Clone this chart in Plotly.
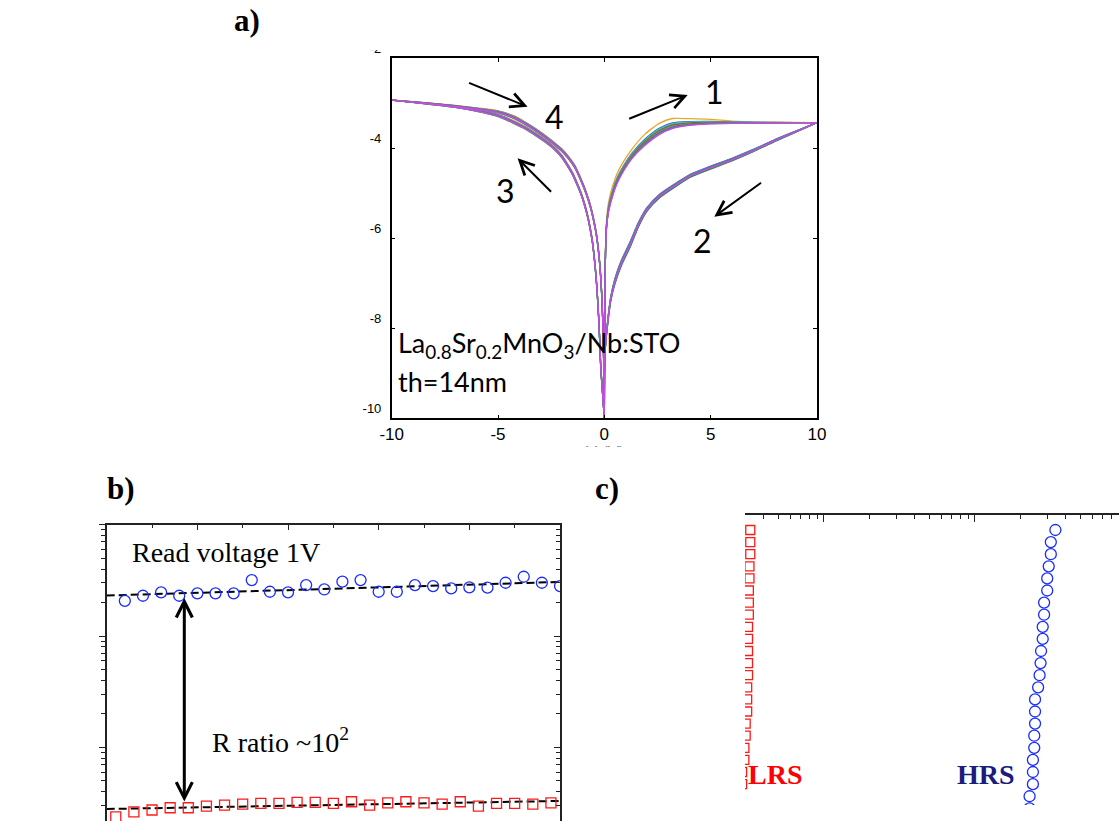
import numpy as np
import plotly.graph_objects as go

# ---------------------------------------------------------------------------
# Panel a: log10|I| vs V for repeated switching cycles
# ---------------------------------------------------------------------------
# branch 1: 0 -> +10 V (set, upper curve on positive side)
V_set = [0, 0.01, 0.03, 0.06, 0.1, 0.2, 0.4, 0.6, 0.9, 1.3, 1.9, 2.6, 3.2, 4.0, 5.0, 6.0, 8.0, 10.0]
logI_set = [-10, -8.4, -7.0, -6.2, -5.75, -5.35, -4.98, -4.72, -4.45, -4.17, -3.87, -3.62, -3.5,
            -3.45, -3.43, -3.43, -3.43, -3.43]
fan_set = [0, 0.1, 0.3, 0.5, 0.7, 0.85, 0.9, 0.9, 0.85, 0.85, 1.0, 1.0, 0.9, 0.6, 0.4, 0.2, 0.05, 0]

# branch 2: +10 -> 0 V (reset, lower curve on positive side)
V_reset = [10, 9, 8, 7, 6, 5, 4, 3.4, 2.6, 2.0, 1.6, 1.2, 0.8, 0.5, 0.3, 0.15, 0.05, 0.01, 0]
logI_reset = [-3.43, -3.63, -3.83, -4.05, -4.25, -4.43, -4.62, -4.8, -5.06, -5.36, -5.7, -6.15,
              -6.55, -6.95, -7.35, -7.9, -8.4, -9.0, -10]
fan_reset = [0, 0.3, 0.5, 0.6, 0.7, 0.8, 0.8, 0.9, 1.0, 1.0, 1.2, 1.5, 1.5, 1.5, 1.2, 1.0, 0.6, 0.3, 0]

# branch 3: 0 -> -10 V (outer curve on negative side)
V_neg_out = [0, -0.06, -0.12, -0.17, -0.22, -0.27, -0.33, -0.39, -0.47, -0.55, -0.66, -0.78, -0.93,
             -1.1, -1.3, -1.5, -1.75, -2.0, -2.4, -2.8, -3.2, -3.7, -4.3, -5, -6, -7, -8.5, -10]
logI_neg_out = [-10, -9.6, -9.2, -8.85, -8.25, -7.74, -7.25, -6.85, -6.45, -6.11, -5.8, -5.52, -5.25,
                -5.0, -4.77, -4.56, -4.36, -4.18, -3.98, -3.83, -3.7, -3.55, -3.41, -3.27, -3.16,
                -3.08, -3.0, -2.93]
fan_neg_out = [0, 0.5, 1, 1, 1, 1, 1, 1, 1, 1, 1, 1, 1, 1, 1, 1, 1, 1, 1, 1, 1, 1, 1, 0.8, 0.6,
               0.4, 0.2, 0]

# branch 4: -10 -> 0 V (inner curve on negative side)
V_neg_in = [-10, -8.5, -7, -6, -5, -4.3, -3.7, -3.2, -2.7, -2.3, -2.0, -1.7, -1.4, -1.1, -0.85,
            -0.65, -0.5, -0.36, -0.26, -0.18, -0.11, -0.06, -0.03, 0]
logI_neg_in = [-2.93, -2.99, -3.06, -3.12, -3.19, -3.3, -3.45, -3.6, -3.77, -3.92, -4.04, -4.2,
               -4.4, -4.7, -5.0, -5.3, -5.6, -5.96, -6.35, -6.8, -7.37, -8.1, -8.8, -10]
fan_neg_in = [0, 0.2, 0.4, 0.6, 0.8, 1, 1, 1, 1, 1, 1, 1, 1, 1, 1, 1, 1, 1, 1, 1, 1, 0.6, 0.3, 0]

# per-cycle colours and offsets (log10 units) of each branch
cycle_colors = ["#EDA526", "#1F6FD0", "#3FBFE8", "#4DAF3C", "#B03A2E", "#8C8C8C",
                "#2E8B57", "#7A5FC0", "#C24FDE"]
shift_set = [0.18, 0.07, 0.05, 0.03, 0.01, -0.01, -0.03, -0.05, -0.07]
shift_reset = [0.02, 0.04, -0.03, 0.03, -0.02, 0.01, -0.04, 0.02, -0.01]
shift_neg = [0.03, -0.02, 0.02, -0.03, 0.01, 0.02, -0.01, 0.0, -0.02]

V_ticks = [-10, -5, 0, 5, 10]
logI_ticks = [-10, -8, -6, -4, -2]

# ---------------------------------------------------------------------------
# Panels b and c: endurance at 1 V read and cumulative distribution
# ---------------------------------------------------------------------------
cycle_HRS = [c + 1.0 for c in range(25)]   # read after the reset sweep
cycle_LRS = [c + 0.5 for c in range(25)]   # read after the set sweep
R_HRS = [20700, 23000, 24700, 23000, 24200, 24200, 24200, 31800, 25000, 24700, 28700, 26200, 30800,
         31800, 25000, 25000, 28700, 28100, 26800, 27400, 27200, 30100, 34100, 30100, 28100]
R_LRS = [238, 264, 274, 287, 287, 297, 303, 310, 314, 314, 321, 321, 314, 325, 303, 318, 325, 318,
         310, 325, 297, 314, 314, 310, 318]

W, H = 1119, 821


def fx(px):
    return px / W


def fy(py):
    return 1 - py / H


fig = go.Figure()

# ---- panel a curves
for k, col in enumerate(cycle_colors):
    xs = V_set + V_reset + V_neg_out + V_neg_in
    ys = np.concatenate([
        np.array(logI_set) + shift_set[k] * np.array(fan_set),
        np.array(logI_reset) + shift_reset[k] * np.array(fan_reset),
        np.array(logI_neg_out) + shift_neg[k] * np.array(fan_neg_out),
        np.array(logI_neg_in) + shift_neg[k] * np.array(fan_neg_in),
    ])
    fig.add_trace(go.Scatter(x=xs, y=ys, mode="lines",
                             line=dict(color=col, width=1.3, shape="spline", smoothing=0.6),
                             xaxis="x", yaxis="y", hoverinfo="skip", showlegend=False))

# ---- panel b: linear fits of log10(R) vs cycle
x_fit = np.array([0, 25])
for cyc, R in ((cycle_HRS, R_HRS), (cycle_LRS, R_LRS)):
    p = np.polyfit(cyc, np.log10(R), 1)
    fig.add_trace(go.Scatter(x=x_fit, y=10 ** np.polyval(p, x_fit), mode="lines",
                             line=dict(color="black", width=2, dash="8px,4px"),
                             xaxis="x2", yaxis="y2", hoverinfo="skip", showlegend=False))

fig.add_trace(go.Scatter(x=cycle_HRS, y=R_HRS, mode="markers",
                         marker=dict(symbol="circle-open", size=11, color="#1a2cff",
                                     line=dict(width=1.3)),
                         xaxis="x2", yaxis="y2", showlegend=False))
fig.add_trace(go.Scatter(x=cycle_LRS, y=R_LRS, mode="markers",
                         marker=dict(symbol="square-open", size=10, color="#ff1a1a",
                                     line=dict(width=1.3)),
                         xaxis="x2", yaxis="y2", showlegend=False))
# right-hand tick axis of panel b
fig.add_trace(go.Scatter(x=[], y=[], xaxis="x2", yaxis="y4", showlegend=False))

# ---- panel c: cumulative probability of the same read-outs
n = len(R_HRS)
prob = [(i + 0.5) / n * 100 for i in range(n)]
fig.add_trace(go.Scatter(x=sorted(R_LRS), y=prob, mode="markers",
                         marker=dict(symbol="square-open", size=9, color="#ff1a1a",
                                     line=dict(width=1.3)),
                         xaxis="x3", yaxis="y3", showlegend=False))
fig.add_trace(go.Scatter(x=sorted(R_HRS), y=prob, mode="markers",
                         marker=dict(symbol="circle-open", size=11, color="#1a2cff",
                                     line=dict(width=1.3)),
                         xaxis="x3", yaxis="y3", showlegend=False))

sans = "Liberation Sans, Arial"
serif = "Liberation Serif, Times New Roman"
calib = "Lato, Carlito, Calibri"

fig.update_layout(
    template="none",
    width=W, height=H, autosize=False,
    margin=dict(l=0, r=0, t=0, b=0, autoexpand=False),
    paper_bgcolor="white", plot_bgcolor="white",
    showlegend=False,
    xaxis=dict(domain=[fx(391.7), fx(817)], range=[-10, 10], anchor="y", automargin=False,
               showline=True, linecolor="black", linewidth=1.5, mirror="ticks",
               ticks="inside", ticklen=4, tickwidth=1, tickcolor="black",
               tickvals=V_ticks, ticktext=[str(v) for v in V_ticks],
               showgrid=False, zeroline=False,
               tickfont=dict(family=sans, size=17, color="black")),
    yaxis=dict(domain=[fy(418.3), fy(58.3)], range=[-10, -2], anchor="x", automargin=False,
               showline=True, linecolor="black", linewidth=1.5, mirror="ticks",
               ticks="inside", ticklen=4, tickwidth=1, tickcolor="black",
               tickvals=logI_ticks, ticktext=[str(v) for v in logI_ticks],
               showgrid=False, zeroline=False,
               ticklabelposition="outside top", ticklabelstandoff=6,
               tickfont=dict(family=sans, size=13, color="black")),
    xaxis2=dict(domain=[fx(106.7), fx(560)], range=[0, 25], anchor="y2", side="top",
                automargin=False,
                showline=True, linecolor="#222", linewidth=1.5, mirror=False,
                ticks="inside", ticklen=6, tickwidth=1.2, tickcolor="#222",
                tick0=0, dtick=5, showticklabels=False, showgrid=False, zeroline=False,
                minor=dict(ticks="inside", ticklen=4, tickwidth=1, tickcolor="#222",
                           dtick=2.5, showgrid=False)),
    yaxis2=dict(domain=[0, fy(524.7)], type="log", range=[2.339, 5], anchor="x2",
                automargin=False,
                showline=True, linecolor="#222", linewidth=1.5, mirror=True,
                ticks="outside", ticklen=6, tickwidth=1.2, tickcolor="#222",
                dtick=1, showticklabels=False, showgrid=False, zeroline=False,
                minor=dict(ticks="outside", ticklen=4, tickwidth=1, tickcolor="#222",
                           dtick="D1", showgrid=False)),
    yaxis4=dict(overlaying="y2", side="right", type="log", range=[2.339, 5], anchor="x2",
                automargin=False,
                showline=False, ticks="inside", ticklen=6, tickwidth=1.2, tickcolor="#222",
                dtick=1, showticklabels=False, showgrid=False, zeroline=False,
                minor=dict(ticks="inside", ticklen=4, tickwidth=1, tickcolor="#222",
                           dtick="D1", showgrid=False)),
    xaxis3=dict(domain=[fx(745), 1], type="log", range=[2.477, 4.954], anchor="y3", side="top",
                automargin=False,
                showline=True, linecolor="#222", linewidth=1.8, mirror=False,
                ticks="inside", ticklen=7, tickwidth=1.2, tickcolor="#222",
                dtick=1, showticklabels=False, showgrid=False, zeroline=False,
                minor=dict(ticks="inside", ticklen=4, tickwidth=1, tickcolor="#222",
                           dtick="D1", showgrid=False)),
    yaxis3=dict(domain=[fy(805), fy(515)], range=[7.1, 102.96], anchor="x3", visible=False,
                automargin=False),
)

ann = []
# panel labels
for txt, x0, y0 in (("a)", 247, 21), ("b)", 121, 488), ("c)", 607, 488)):
    ann.append(dict(text=f"<b>{txt}</b>", x=fx(x0), y=fy(y0), xref="paper", yref="paper",
                    xanchor="center", yanchor="middle", showarrow=False,
                    font=dict(family=serif, size=31, color="black")))

# panel a: voltage axis title (only its top shows below the frame)
ann.append(dict(text="V (V)", x=fx(605), y=fy(453), xref="paper", yref="paper",
                xanchor="center", yanchor="middle", showarrow=False,
                font=dict(family=sans, size=17, color="black")))
ann.append(dict(text=" ", x=fx(605), y=fy(462), xref="paper", yref="paper", showarrow=False,
                xanchor="center", yanchor="middle", width=90, height=28, bgcolor="white"))

# panel a: sweep direction arrows and numbers
for hx, hy, ax, ay in ((3.92, -2.816, -60, 24.3), (-3.61, -3.076, -60, -24.4),
                       (-4.08, -4.222, 35, 35), (5.17, -5.52, 48.3, -35)):
    ann.append(dict(x=hx, y=hy, xref="x", yref="y", ax=ax, ay=ay, text="", showarrow=True,
                    arrowhead=5, arrowsize=1.4, arrowwidth=2, arrowcolor="black"))
for txt, tx, ty in (("1", 5.17, -2.74), ("4", -2.35, -3.30), ("3", -4.67, -4.93), ("2", 4.62, -6.04)):
    ann.append(dict(text=txt, x=tx, y=ty, xref="x", yref="y", showarrow=False,
                    font=dict(family=calib, size=32, color="black")))
ann.append(dict(text="La<sub>0.8</sub>Sr<sub>0.2</sub>MnO<sub>3</sub>/Nb:STO", x=-9.79, y=-8.37,
                xref="x", yref="y", xanchor="left", showarrow=False,
                font=dict(family=calib, size=27, color="black")))
ann.append(dict(text="th=14nm", x=-9.79, y=-9.19, xref="x", yref="y", xanchor="left",
                showarrow=False, font=dict(family=calib, size=27, color="black")))

# panel b
ann.append(dict(text="Read voltage 1V", x=1.29, y=4.746, xref="x2", yref="y2", xanchor="left",
                showarrow=False, font=dict(family=serif, size=28, color="black")))
ann.append(dict(text="R ratio ~10<sup>2</sup>", x=5.70, y=3.066, xref="x2", yref="y2",
                xanchor="left", showarrow=False, font=dict(family=serif, size=28, color="black")))
ann.append(dict(x=4.28, y=4.342, ax=4.28, ay=2.50, xref="x2", yref="y2", axref="x2", ayref="y2",
                text="", showarrow=True, arrowside="end+start", arrowhead=5, startarrowhead=5,
                arrowsize=1.05, startarrowsize=1.05, arrowwidth=3, arrowcolor="black"))

# panel c
ann.append(dict(text="<b>LRS</b>", x=fx(746), y=fy(792), xref="paper", yref="paper",
                xanchor="left", showarrow=False, font=dict(family=serif, size=28, color="#ff0000")))
ann.append(dict(text="<b>HRS</b>", x=fx(1017), y=fy(792), xref="paper", yref="paper",
                xanchor="right", showarrow=False, font=dict(family=serif, size=28, color="#1c1c7c")))

fig.update_layout(annotations=ann)

# the top of panel a is cut just above its frame
fig.add_shape(type="rect", xref="paper", yref="paper", x0=fx(340), x1=fx(390), y0=fy(50), y1=1,
              fillcolor="white", line=dict(width=0), layer="above")

fig.write_html("out.html")
